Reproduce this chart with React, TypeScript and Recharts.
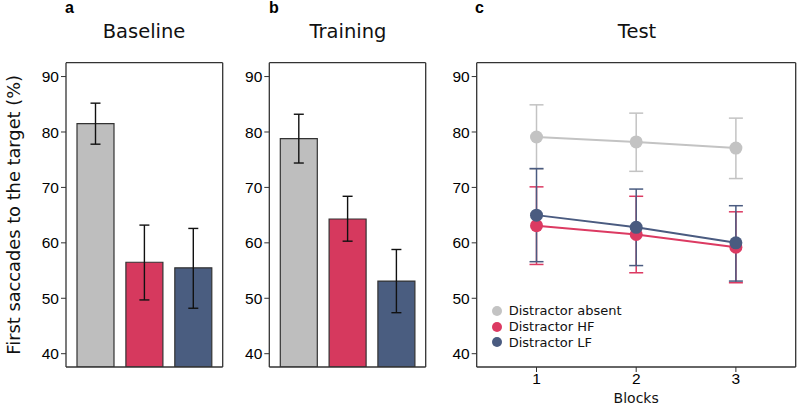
import React from 'react';
import { BarChart, Bar, XAxis, YAxis, ErrorBar, Cell, LineChart, Line, Legend } from 'recharts';

const conditions = ['Distractor absent', 'Distractor HF', 'Distractor LF'];
const barColors = ['#bebebe', '#d6395e', '#4a5d80'];
const lineColors = ['#c3c3c3', '#dc3a62', '#4a5b80'];

const baselineMean = [81.5, 56.5, 55.5];
const baselineLow = [77.8, 49.7, 48.2];
const baselineHigh = [85.2, 63.2, 62.6];

const trainingMean = [78.8, 64.3, 53.1];
const trainingLow = [74.4, 60.3, 47.4];
const trainingHigh = [83.2, 68.4, 58.8];

const blocks = [1, 2, 3];
const testAbsentMean = [79.1, 78.2, 77.1];
const testAbsentLow = [73.3, 72.9, 71.6];
const testAbsentHigh = [84.9, 83.4, 82.5];
const testHFMean = [63.1, 61.5, 59.2];
const testHFLow = [56.1, 54.6, 52.8];
const testHFHigh = [70.1, 68.4, 65.6];
const testLFMean = [65.0, 62.8, 60.0];
const testLFLow = [56.6, 55.9, 53.1];
const testLFHigh = [73.4, 69.7, 66.7];

const yTicks = [40, 50, 60, 70, 80, 90];
const xTicks = [1, 2, 3];
const yDomain: [number, number] = [37.6, 92.5];
const xDomain: [number, number] = [0.4, 3.6];

const FONT = '"DejaVu Sans", sans-serif';
const TICKFONT = '"Liberation Sans", Arial, sans-serif';
const BORDER = '#333333';
const TEXT = '#111111';
const axisLineStyle = { stroke: BORDER, strokeWidth: 1.3 };

function YTick(p: any) {
  return (
    <text x={p.x} y={p.y} dy="0.36em" textAnchor="end" fontFamily={TICKFONT} fontSize={15.5} fill="#000">
      {p.payload.value}
    </text>
  );
}
function XTick(p: any) {
  return (
    <text x={p.x} y={p.y} dy="0.72em" textAnchor="middle" fontFamily={TICKFONT} fontSize={15.5} fill="#000">
      {p.payload.value}
    </text>
  );
}

const titleStyle: React.CSSProperties = {
  position: 'absolute', top: 19.5, fontFamily: FONT, fontSize: 19.5, color: TEXT,
  transform: 'translateX(-50%)', whiteSpace: 'nowrap', lineHeight: '24px',
};
const letterStyle: React.CSSProperties = {
  position: 'absolute', top: -2, fontFamily: '"Liberation Sans", Arial, sans-serif', fontWeight: 'bold',
  fontSize: 16, color: '#000', lineHeight: '20px',
};

function barData(mean: number[], low: number[], high: number[]) {
  return conditions.map((c, i) => ({
    name: c,
    value: mean[i],
    err: [mean[i] - low[i], high[i] - mean[i]],
  }));
}

function BarPanel(props: { mean: number[]; low: number[]; high: number[]; left: number; width: number; yWidth: number; marginRight: number; yLabel?: string }) {
  const data = barData(props.mean, props.low, props.high);
  return (
    <div style={{ position: 'absolute', left: props.left, top: 0 }}>
      <BarChart width={props.width} height={405} data={data}
        margin={{ top: 61.7, right: props.marginRight, bottom: 37, left: 0 }}>
        <XAxis dataKey="name" xAxisId={0} height={1} tick={false} tickLine={false}
          axisLine={axisLineStyle} padding={{ left: 5, right: 5 }} />
        <XAxis xAxisId="top" orientation="top" type="number" domain={[0, 1]} height={1} tick={false}
          tickLine={false} axisLine={axisLineStyle} />
        <YAxis yAxisId={0} domain={yDomain} ticks={yTicks} allowDataOverflow width={props.yWidth}
          tick={<YTick />} tickSize={5} tickMargin={2}
          axisLine={axisLineStyle} tickLine={{ stroke: BORDER }}
          label={props.yLabel ? { value: props.yLabel, angle: -90, position: 'center', dx: -19,
            style: { fontFamily: FONT, fontSize: 17.8, fill: TEXT } } : undefined} />
        <YAxis yAxisId="right" orientation="right" domain={yDomain} width={1} tick={false} tickLine={false}
          axisLine={axisLineStyle} />
        <Bar dataKey="value" xAxisId={0} yAxisId={0} barSize={37} stroke={BORDER} strokeWidth={1.2} isAnimationActive={false}>
          {data.map((d, i) => <Cell key={d.name} fill={barColors[i]} />)}
          <ErrorBar dataKey="err" width={5} stroke="#111" strokeWidth={1.4} />
        </Bar>
      </BarChart>
    </div>
  );
}

const testData = blocks.map((b, i) => ({
  block: b,
  absent: testAbsentMean[i],
  absentErr: [testAbsentMean[i] - testAbsentLow[i], testAbsentHigh[i] - testAbsentMean[i]],
  hf: testHFMean[i],
  hfErr: [testHFMean[i] - testHFLow[i], testHFHigh[i] - testHFMean[i]],
  lf: testLFMean[i],
  lfErr: [testLFMean[i] - testLFLow[i], testLFHigh[i] - testLFMean[i]],
}));

function renderLegend(props: any) {
  const payload = [...(props.payload || [])].sort(
    (a: any, b: any) => conditions.indexOf(a.value) - conditions.indexOf(b.value));
  return (
    <div style={{ fontFamily: FONT, fontSize: 13, color: TEXT }}>
      {payload.map((e: any) => (
        <div key={e.value} style={{ display: 'flex', alignItems: 'center', height: 15.7, whiteSpace: 'nowrap' }}>
          <span style={{ display: 'inline-block', width: 10, height: 10, borderRadius: 5, background: e.color, marginRight: 7 }} />
          <span>{e.value}</span>
        </div>
      ))}
    </div>
  );
}

function TestPanel() {
  return (
    <div style={{ position: 'absolute', left: 430, top: 0 }}>
      <LineChart width={367} height={405} data={testData}
        margin={{ top: 61.7, right: 0.3, bottom: 0, left: 0 }}>
        <XAxis dataKey="block" type="number" domain={xDomain} ticks={xTicks} allowDataOverflow height={38}
          tick={<XTick />} tickSize={5} tickMargin={1}
          axisLine={axisLineStyle} tickLine={{ stroke: BORDER }}
          label={{ value: 'Blocks', position: 'insideBottom', offset: 2, style: { fontFamily: FONT, fontSize: 14, fill: TEXT } }} />
        <XAxis xAxisId="top" orientation="top" type="number" domain={xDomain} height={1} tick={false}
          tickLine={false} axisLine={axisLineStyle} />
        <YAxis domain={yDomain} ticks={yTicks} allowDataOverflow width={46.7}
          tick={<YTick />} tickSize={5} tickMargin={2}
          axisLine={axisLineStyle} tickLine={{ stroke: BORDER }} />
        <YAxis yAxisId="right" orientation="right" domain={yDomain} width={1} tick={false} tickLine={false}
          axisLine={axisLineStyle} />
        <Legend layout="vertical" align="center" verticalAlign="middle" content={renderLegend}
          wrapperStyle={{ left: 61.7, top: 303, width: 200 }} />
        <Line dataKey="absent" name={conditions[0]} stroke={lineColors[0]} strokeWidth={2}
          dot={{ r: 6.5, fill: lineColors[0], stroke: lineColors[0], strokeWidth: 0 }} activeDot={false} isAnimationActive={false}>
          <ErrorBar dataKey="absentErr" width={7} stroke={lineColors[0]} strokeWidth={1.5} />
        </Line>
        <Line dataKey="hf" name={conditions[1]} stroke={lineColors[1]} strokeWidth={2}
          dot={{ r: 6.5, fill: lineColors[1], stroke: lineColors[1], strokeWidth: 0 }} activeDot={false} isAnimationActive={false}>
          <ErrorBar dataKey="hfErr" width={7} stroke={lineColors[1]} strokeWidth={1.5} />
        </Line>
        <Line dataKey="lf" name={conditions[2]} stroke={lineColors[2]} strokeWidth={2}
          dot={{ r: 6.5, fill: lineColors[2], stroke: lineColors[2], strokeWidth: 0 }} activeDot={false} isAnimationActive={false}>
          <ErrorBar dataKey="lfErr" width={7} stroke={lineColors[2]} strokeWidth={1.5} />
        </Line>
      </LineChart>
    </div>
  );
}

export default function App() {
  return (
    <div style={{ position: 'absolute', left: 0, top: 0, width: 797, height: 405, background: '#fff', overflow: 'hidden' }}>
      <BarPanel mean={baselineMean} low={baselineLow} high={baselineHigh} left={0} width={230} yWidth={66}
        marginRight={6.3} yLabel="First saccades to the target (%)" />
      <BarPanel mean={trainingMean} low={trainingLow} high={trainingHigh} left={220} width={210} yWidth={49.3}
        marginRight={3.3} />
      <TestPanel />
      <div style={{ ...titleStyle, left: 144 }}>Baseline</div>
      <div style={{ ...titleStyle, left: 348 }}>Training</div>
      <div style={{ ...titleStyle, left: 637 }}>Test</div>
      <div style={{ ...letterStyle, left: 65 }}>a</div>
      <div style={{ ...letterStyle, left: 269 }}>b</div>
      <div style={{ ...letterStyle, left: 475 }}>c</div>
    </div>
  );
}
